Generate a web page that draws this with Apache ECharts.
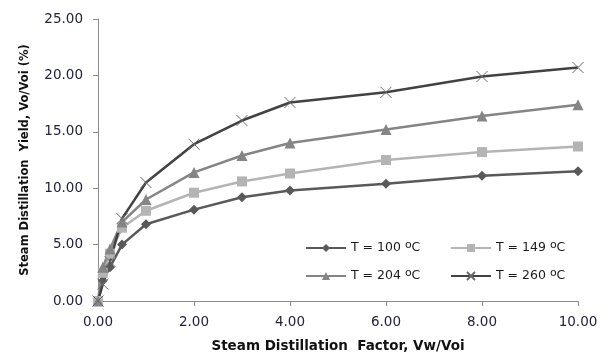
<!DOCTYPE html>
<html>
<head>
<meta charset="utf-8">
<script src="https://cdn.jsdelivr.net/npm/echarts@6/dist/echarts.min.js"></script>
<style>
  html, body { margin: 0; padding: 0; background: #fff; }
  #chart { width: 608px; height: 354px; }
</style>
</head>
<body>
<div id="chart"></div>
<script>
// steam distillation factor Vw/Voi
const factor = [0, 0.1, 0.25, 0.5, 1, 2, 3, 4, 6, 8, 10];

// yield Vo/Voi (%) per temperature
const t100 = [0, 1.8, 3.0, 5.0, 6.8, 8.1, 9.2, 9.8, 10.4, 11.1, 11.5];
const t149 = [0, 2.5, 4.2, 6.5, 8.0, 9.6, 10.6, 11.3, 12.5, 13.2, 13.7];
const t204 = [0, 3.0, 4.6, 7.0, 9.0, 11.4, 12.9, 14.0, 15.2, 16.4, 17.4];
const t260 = [0, 1.5, 3.5, 7.3, 10.5, 13.9, 16.0, 17.6, 18.5, 19.9, 20.7];

const seriesNames = ['T = 100 \u00B0C', 'T = 149 \u00B0C', 'T = 204 \u00B0C', 'T = 260 \u00B0C'];

const pair = ys => factor.map((x, i) => [x, ys[i]]);

const chart = echarts.init(document.getElementById('chart'));

const labelColor = '#23233d';
const axisColor = '#8c8c8c';
const crossPath = 'path://M0,0L10,10M10,0L0,10';

const fmt = v => Math.abs(v).toFixed(2);

// draw the degree sign as a raised small "o" like the original
const legendBase = {
    orient: 'horizontal',
    itemWidth: 40,
    itemHeight: 10,
    selectedMode: false,
    formatter: name => name.replace('\u00B0', '{s|o}'),
    textStyle: {
        fontFamily: 'DejaVu Sans',
        fontSize: 12.5,
        color: '#1a1a1a',
        lineHeight: 16,
        rich: {
            s: { fontFamily: 'DejaVu Sans', fontSize: 11, lineHeight: 9, verticalAlign: 'top', color: '#1a1a1a' }
        }
    }
};

const option = {
    animation: false,
    grid: { left: 98, right: 30, top: 19, bottom: 53, outerBoundsMode: 'none' },
    legend: [
        Object.assign({ data: [seriesNames[0]], left: 300, top: 235 }, legendBase),
        Object.assign({ data: [seriesNames[1]], left: 445, top: 235 }, legendBase),
        Object.assign({ data: [seriesNames[2]], left: 300, top: 263 }, legendBase),
        Object.assign({ data: [seriesNames[3]], left: 445, top: 263 }, legendBase)
    ],
    xAxis: {
        type: 'value',
        min: 0,
        max: 10,
        interval: 2,
        name: 'Steam Distillation  Factor, Vw/Voi',
        nameLocation: 'middle',
        nameGap: 38,
        nameTextStyle: { fontFamily: 'DejaVu Sans', fontWeight: 'bold', fontSize: 13.5, color: '#111' },
        axisLine: { show: true, lineStyle: { color: axisColor, width: 1 } },
        axisTick: { show: true, length: 5, lineStyle: { color: axisColor } },
        axisLabel: {
            margin: 14,
            fontFamily: 'DejaVu Sans',
            fontSize: 13.5,
            color: labelColor,
            formatter: fmt
        },
        splitLine: { show: false }
    },
    yAxis: {
        type: 'value',
        min: 0,
        max: 25,
        interval: 5,
        name: 'Steam Distillation  Yield, Vo/Voi (%)',
        nameLocation: 'middle',
        nameGap: 67,
        nameTextStyle: { fontFamily: 'DejaVu Sans', fontWeight: 'bold', fontSize: 11.5, color: '#111' },
        axisLine: { show: true, lineStyle: { color: axisColor, width: 1 } },
        axisTick: { show: true, length: 5, lineStyle: { color: axisColor } },
        axisLabel: {
            margin: 15,
            fontFamily: 'DejaVu Sans',
            fontSize: 13.5,
            color: labelColor,
            formatter: fmt
        },
        splitLine: { show: false }
    },
    series: [
        {
            name: seriesNames[0],
            type: 'line',
            data: pair(t100),
            symbol: 'diamond',
            symbolSize: 10,
            lineStyle: { color: '#595959', width: 2.5 },
            itemStyle: { color: '#595959' }
        },
        {
            name: seriesNames[1],
            type: 'line',
            data: pair(t149),
            symbol: 'rect',
            symbolSize: 10,
            lineStyle: { color: '#b4b4b4', width: 2.5 },
            itemStyle: { color: '#b4b4b4' }
        },
        {
            name: seriesNames[2],
            type: 'line',
            data: pair(t204),
            symbol: 'triangle',
            symbolSize: 11,
            lineStyle: { color: '#858585', width: 2.5 },
            itemStyle: { color: '#858585' }
        },
        {
            name: seriesNames[3],
            type: 'line',
            data: pair(t260),
            symbol: crossPath,
            symbolSize: 11,
            lineStyle: { color: '#424242', width: 2.5 },
            itemStyle: { color: 'rgba(0,0,0,0)', borderColor: '#6a6a6a', borderWidth: 1 }
        }
    ]
};

chart.setOption(option);
</script>
</body>
</html>
